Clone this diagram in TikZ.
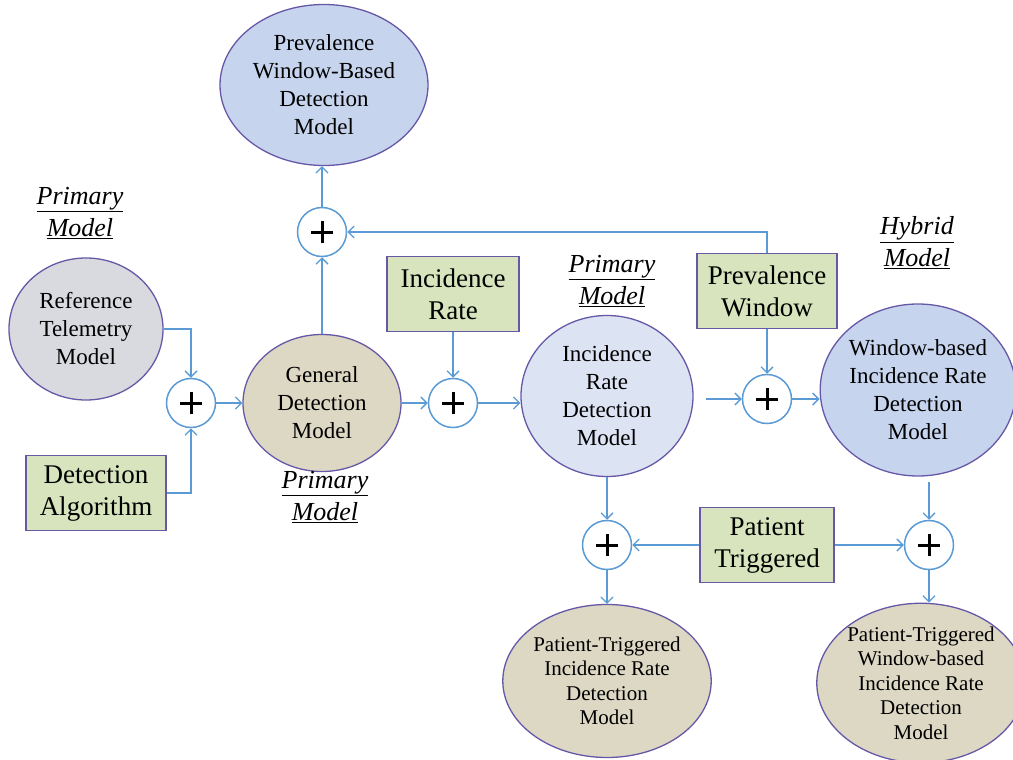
\documentclass[tikz,border=0pt]{standalone}
\usepackage{fontspec}
\setmainfont{Liberation Serif}
\usetikzlibrary{shapes.geometric,arrows.meta}
\definecolor{edgeP}{HTML}{6658A6}
\definecolor{lineB}{HTML}{5B9BD5}
\definecolor{boxG}{HTML}{D7E4BD}
\definecolor{blueM}{HTML}{C6D4EE}
\definecolor{blueL}{HTML}{DCE4F4}
\definecolor{greyL}{HTML}{D9DADF}
\definecolor{tanL}{HTML}{DDD8C4}
\tikzset{
  model/.style={ellipse, draw=edgeP, line width=1.3pt, inner sep=0pt, align=center,
    font=\rmfamily\fontsize{23}{28}\selectfont},
  smallmodel/.style={model, font=\rmfamily\fontsize{21}{24.5}\selectfont},
  inbox/.style={rectangle, draw=edgeP, fill=boxG, line width=1.3pt, inner sep=0pt,
    align=center, font=\rmfamily\fontsize{27}{32}\selectfont},
  sumnode/.style={circle, draw=lineB, fill=white, line width=1.5pt, minimum size=49pt,
    inner sep=0pt, path picture={
      \draw[line width=3pt, black]
        ([xshift=-11pt]path picture bounding box.center) -- ([xshift=11pt]path picture bounding box.center)
        ([yshift=-11pt]path picture bounding box.center) -- ([yshift=11pt]path picture bounding box.center);}},
  flow/.style={draw=lineB, line width=1.3pt, -{Straight Barb[length=6pt,width=12pt]}},
  tag/.style={align=center, font=\rmfamily\fontsize{26}{32}\selectfont\itshape}
}
\begin{document}
\begin{tikzpicture}[x=1pt,y=-1pt]
\useasboundingbox (0,0) rectangle (1013,760);

% models
\node[model, fill=blueM, minimum width=208pt, minimum height=161pt] (prev) at (324,85)
  {Prevalence\\Window-Based\\Detection\\Model};
\node[model, fill=greyL, minimum width=154pt, minimum height=142pt] (ref) at (86,329)
  {Reference\\Telemetry\\Model};
\node[model, fill=tanL, minimum width=158pt, minimum height=137pt] (gen) at (322,403)
  {General\\Detection\\Model};
\node[model, fill=blueL, minimum width=172pt, minimum height=161pt] (ird) at (607,396)
  {Incidence\\Rate\\Detection\\Model};
\node[model, fill=blueM, minimum width=186pt, minimum height=172pt] (wir) at (918,390)
  {Window-based\\Incidence Rate\\Detection\\Model};
\node[smallmodel, fill=tanL, minimum width=184pt, minimum height=153pt] (ptir) at (607,681)
  {Patient-Triggered\\Incidence Rate\\Detection\\Model};
\node[smallmodel, fill=tanL, minimum width=182pt, minimum height=154pt] (ptwir) at (921,683)
  {Patient-Triggered\\Window-based\\Incidence Rate\\Detection\\Model};

% inputs
\node[inbox, minimum width=140pt, minimum height=75pt] (alg) at (96,493) {Detection\\Algorithm};
\node[inbox, minimum width=132pt, minimum height=75pt] (irbox) at (453,294) {Incidence\\Rate};
\node[inbox, minimum width=140pt, minimum height=75pt] (pwin) at (767,291) {Prevalence\\Window};
\node[inbox, minimum width=134pt, minimum height=75pt] (pt) at (767,545) {Patient\\Triggered};

% summing junctions
\node[sumnode] (sumL) at (191,403) {};
\node[sumnode] (sumT) at (322,232) {};
\node[sumnode] (sumM) at (453,403) {};
\node[sumnode] (sumR) at (767,399) {};
\node[sumnode] (sumBL) at (607,545) {};
\node[sumnode] (sumBR) at (929,545) {};

% labels
\node[tag] (lab1) at (80,213) {\underline{Primary}\\\underline{Model}};
\node[tag] (lab2) at (325,497) {\underline{Primary}\\\underline{Model}};
\node[tag] (lab3) at (612,281) {\underline{Primary}\\\underline{Model}};
\node[tag] (lab4) at (917,243) {\underline{Hybrid}\\\underline{Model}};

% free ends
\coordinate (irdout) at (706,399);
\coordinate (wirfoot) at (929,482);

% connectors
\draw[flow] (ref.east) -| (sumL.north);
\draw[flow] (alg.east) -| (sumL.south);
\draw[flow] (sumL.east) -- (gen.west);
\draw[flow] (gen.north) -- (sumT.south);
\draw[flow] (sumT.north) -- (sumT.north |- prev.south);
\draw[flow] (pwin.north) |- (sumT.east);
\draw[flow] (irbox.south) -- (sumM.north);
\draw[flow] (gen.east) -- (sumM.west);
\draw[flow] (sumM.east) -- (sumM.east -| ird.west);
\draw[flow] (irdout) -- (sumR.west);
\draw[flow] (pwin.south) -- (sumR.north);
\draw[flow] (sumR.east) -- (sumR.east -| wir.west);
\draw[flow] (ird.south) -- (sumBL.north);
\draw[flow] (pt.west) -- (sumBL.east);
\draw[flow] (pt.east) -- (sumBR.west);
\draw[flow] (wirfoot) -- (sumBR.north);
\draw[flow] (sumBL.south) -- (ptir.north);
\draw[flow] (sumBR.south) -- (sumBR.south |- ptwir.north);
\end{tikzpicture}
\end{document}
